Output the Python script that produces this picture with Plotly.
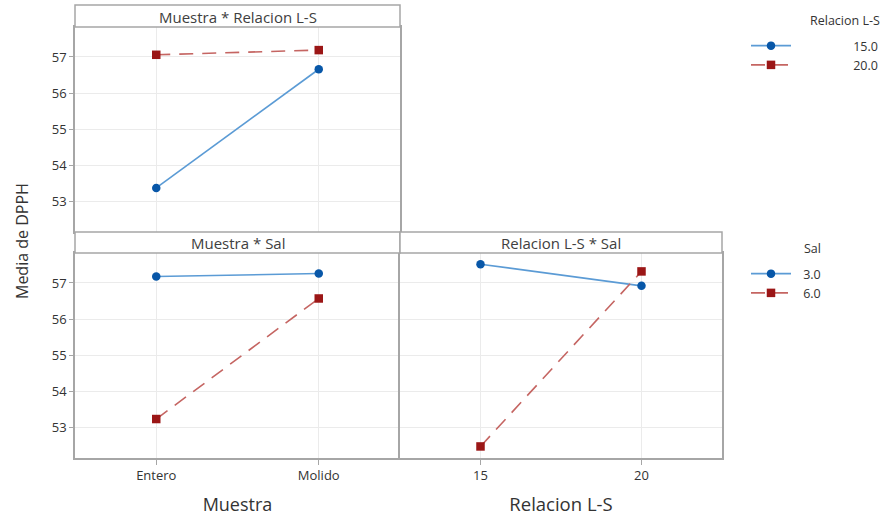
import plotly.graph_objects as go

# ---- data ----
muestra = ["Entero", "Molido"]
relacion = [15, 20]

# Muestra * Relacion L-S
ms_rel15 = [53.37, 56.66]
ms_rel20 = [57.06, 57.19]
# Muestra * Sal
ms_sal3 = [57.18, 57.26]
ms_sal6 = [53.23, 56.57]
# Relacion L-S * Sal
rl_sal3 = [57.52, 56.92]
rl_sal6 = [52.47, 57.32]

rel_legend = ["15.0", "20.0"]
sal_legend = ["3.0", "6.0"]
yticks = [53, 54, 55, 56, 57]

W, H = 885, 516
FONT = "Open Sans"
BLUE_LINE = "#5B9BD5"
BLUE_MK = "#0857A8"
RED_LINE = "#C56562"
RED_MK = "#9B1616"
FRAME = "#A6A6A6"
GRID = "#EBEBEB"
TXT = "#333333"


def px(x):
    return x / W


def py(y):
    return 1 - y / H


fig = go.Figure()


def add_pair(xv, ya, yb, xa, ya_name, names, legend, show):
    fig.add_trace(go.Scatter(
        x=xv, y=ya, mode="lines+markers", name=names[0],
        line=dict(color=BLUE_LINE, width=1.6),
        marker=dict(symbol="circle", size=8.5, color=BLUE_MK),
        xaxis=xa, yaxis=ya_name, legend=legend, showlegend=show))
    fig.add_trace(go.Scatter(
        x=xv, y=yb, mode="lines+markers", name=names[1],
        line=dict(color=RED_LINE, width=1.6, dash="14px,9px"),
        marker=dict(symbol="square", size=8.5, color=RED_MK),
        xaxis=xa, yaxis=ya_name, legend=legend, showlegend=show))


pad1 = "\u2007" * 8
pad2 = "\u2007"
add_pair(muestra, ms_rel15, ms_rel20, "x", "y",
         [pad1 + t for t in rel_legend], "legend", True)
add_pair(muestra, ms_sal3, ms_sal6, "x2", "y2",
         [pad2 + t for t in sal_legend], "legend2", True)
add_pair(relacion, rl_sal3, rl_sal6, "x3", "y3", sal_legend, "legend2", False)

yr = [52.15, 57.83]
common_y = dict(range=yr, tickvals=yticks, showgrid=True, gridcolor=GRID,
                gridwidth=1, showline=True, linecolor=FRAME, linewidth=1.5,
                zeroline=False, fixedrange=True)
common_x = dict(showgrid=True, gridcolor=GRID, gridwidth=1, showline=True,
                linecolor=FRAME, linewidth=1.5, mirror=True, zeroline=False,
                tickfont=dict(family=FONT, size=13, color=TXT))
tfont = dict(family=FONT, size=13, color=TXT)

top_y0, top_y1 = py(232), py(27)
bot_y0, bot_y1 = py(458), py(253)
xl0, xl1, xr1 = px(75), px(400), px(722)

fig.update_layout(
    width=W, height=H,
    margin=dict(l=0, r=0, t=0, b=0, autoexpand=False),
    paper_bgcolor="white", plot_bgcolor="white",
    font=dict(family=FONT, color=TXT),
    xaxis=dict(domain=[xl0, xl1], anchor="y", type="category",
               categoryarray=muestra, range=[-0.5, 1.5],
               showticklabels=False, ticks="", **common_x),
    yaxis=dict(domain=[top_y0, top_y1], anchor="x", ticks="outside",
               ticklen=4, tickcolor=FRAME, mirror=True, tickfont=tfont,
               **common_y),
    xaxis2=dict(domain=[xl0, xl1], anchor="y2", type="category",
                categoryarray=muestra, range=[-0.5, 1.5], ticks="outside",
                ticklen=5, tickcolor=FRAME,
                title=dict(text="Muestra", standoff=15,
                           font=dict(family=FONT, size=18, color=TXT)),
                **common_x),
    yaxis2=dict(domain=[bot_y0, bot_y1], anchor="x2", ticks="outside",
                ticklen=4, tickcolor=FRAME, mirror=False, tickfont=tfont,
                **common_y),
    xaxis3=dict(domain=[xl1, xr1], anchor="y3", range=[12.5, 22.5],
                tickvals=relacion, ticks="outside", ticklen=5,
                tickcolor=FRAME,
                title=dict(text="Relacion L-S", standoff=15,
                           font=dict(family=FONT, size=18.5, color=TXT)),
                **common_x),
    yaxis3=dict(domain=[bot_y0, bot_y1], anchor="x3", showticklabels=False,
                ticks="", mirror=True, **common_y),
    legend=dict(x=px(746), y=py(31), xanchor="left", yanchor="top",
                bgcolor="rgba(0,0,0,0)", tracegroupgap=0, itemwidth=40,
                font=dict(family=FONT, size=12.5, color=TXT)),
    legend2=dict(x=px(746), y=py(259), xanchor="left", yanchor="top",
                 bgcolor="rgba(0,0,0,0)", tracegroupgap=0, itemwidth=40,
                 font=dict(family=FONT, size=12.5, color=TXT)),
    showlegend=True,
)

shapes = [
    dict(type="rect", xref="paper", yref="paper", x0=xl0, x1=xl1,
         y0=py(27), y1=py(5), line=dict(color=FRAME, width=1.5),
         fillcolor="white"),
    dict(type="rect", xref="paper", yref="paper", x0=xl0, x1=xl1,
         y0=py(253), y1=py(232), line=dict(color=FRAME, width=1.5),
         fillcolor="white"),
    dict(type="rect", xref="paper", yref="paper", x0=xl1, x1=xr1,
         y0=py(253), y1=py(232), line=dict(color=FRAME, width=1.5),
         fillcolor="white"),
]
fig.update_layout(shapes=shapes)

ann = [
    dict(text="Muestra * Relacion L-S", x=(xl0 + xl1) / 2, y=py(17)),
    dict(text="Muestra * Sal", x=(xl0 + xl1) / 2, y=py(243)),
    dict(text="Relacion L-S * Sal", x=(xl1 + xr1) / 2, y=py(243)),
]
annotations = []
for a in ann:
    annotations.append(dict(text=a["text"], x=a["x"], y=a["y"], xref="paper",
                            yref="paper", showarrow=False, xanchor="center",
                            yanchor="middle",
                            font=dict(family=FONT, size=15, color="#404040")))
annotations.append(dict(text="Media de DPPH", x=px(22), y=py(241),
                        xref="paper", yref="paper", showarrow=False,
                        textangle=-90, xanchor="center", yanchor="middle",
                        font=dict(family=FONT, size=16, color=TXT)))
annotations.append(dict(text="Relacion L-S", x=px(882), y=py(21),
                        xref="paper", yref="paper", showarrow=False,
                        xanchor="right", yanchor="middle",
                        font=dict(family=FONT, size=12.5, color=TXT)))
annotations.append(dict(text="Sal", x=px(802), y=py(249),
                        xref="paper", yref="paper", showarrow=False,
                        xanchor="left", yanchor="middle",
                        font=dict(family=FONT, size=12.5, color=TXT)))
fig.update_layout(annotations=annotations)

fig.write_html("out.html",
               config={"displayModeBar": False},
               post_script="document.body.style.margin='0';"
                           "document.body.style.overflow='hidden';")
